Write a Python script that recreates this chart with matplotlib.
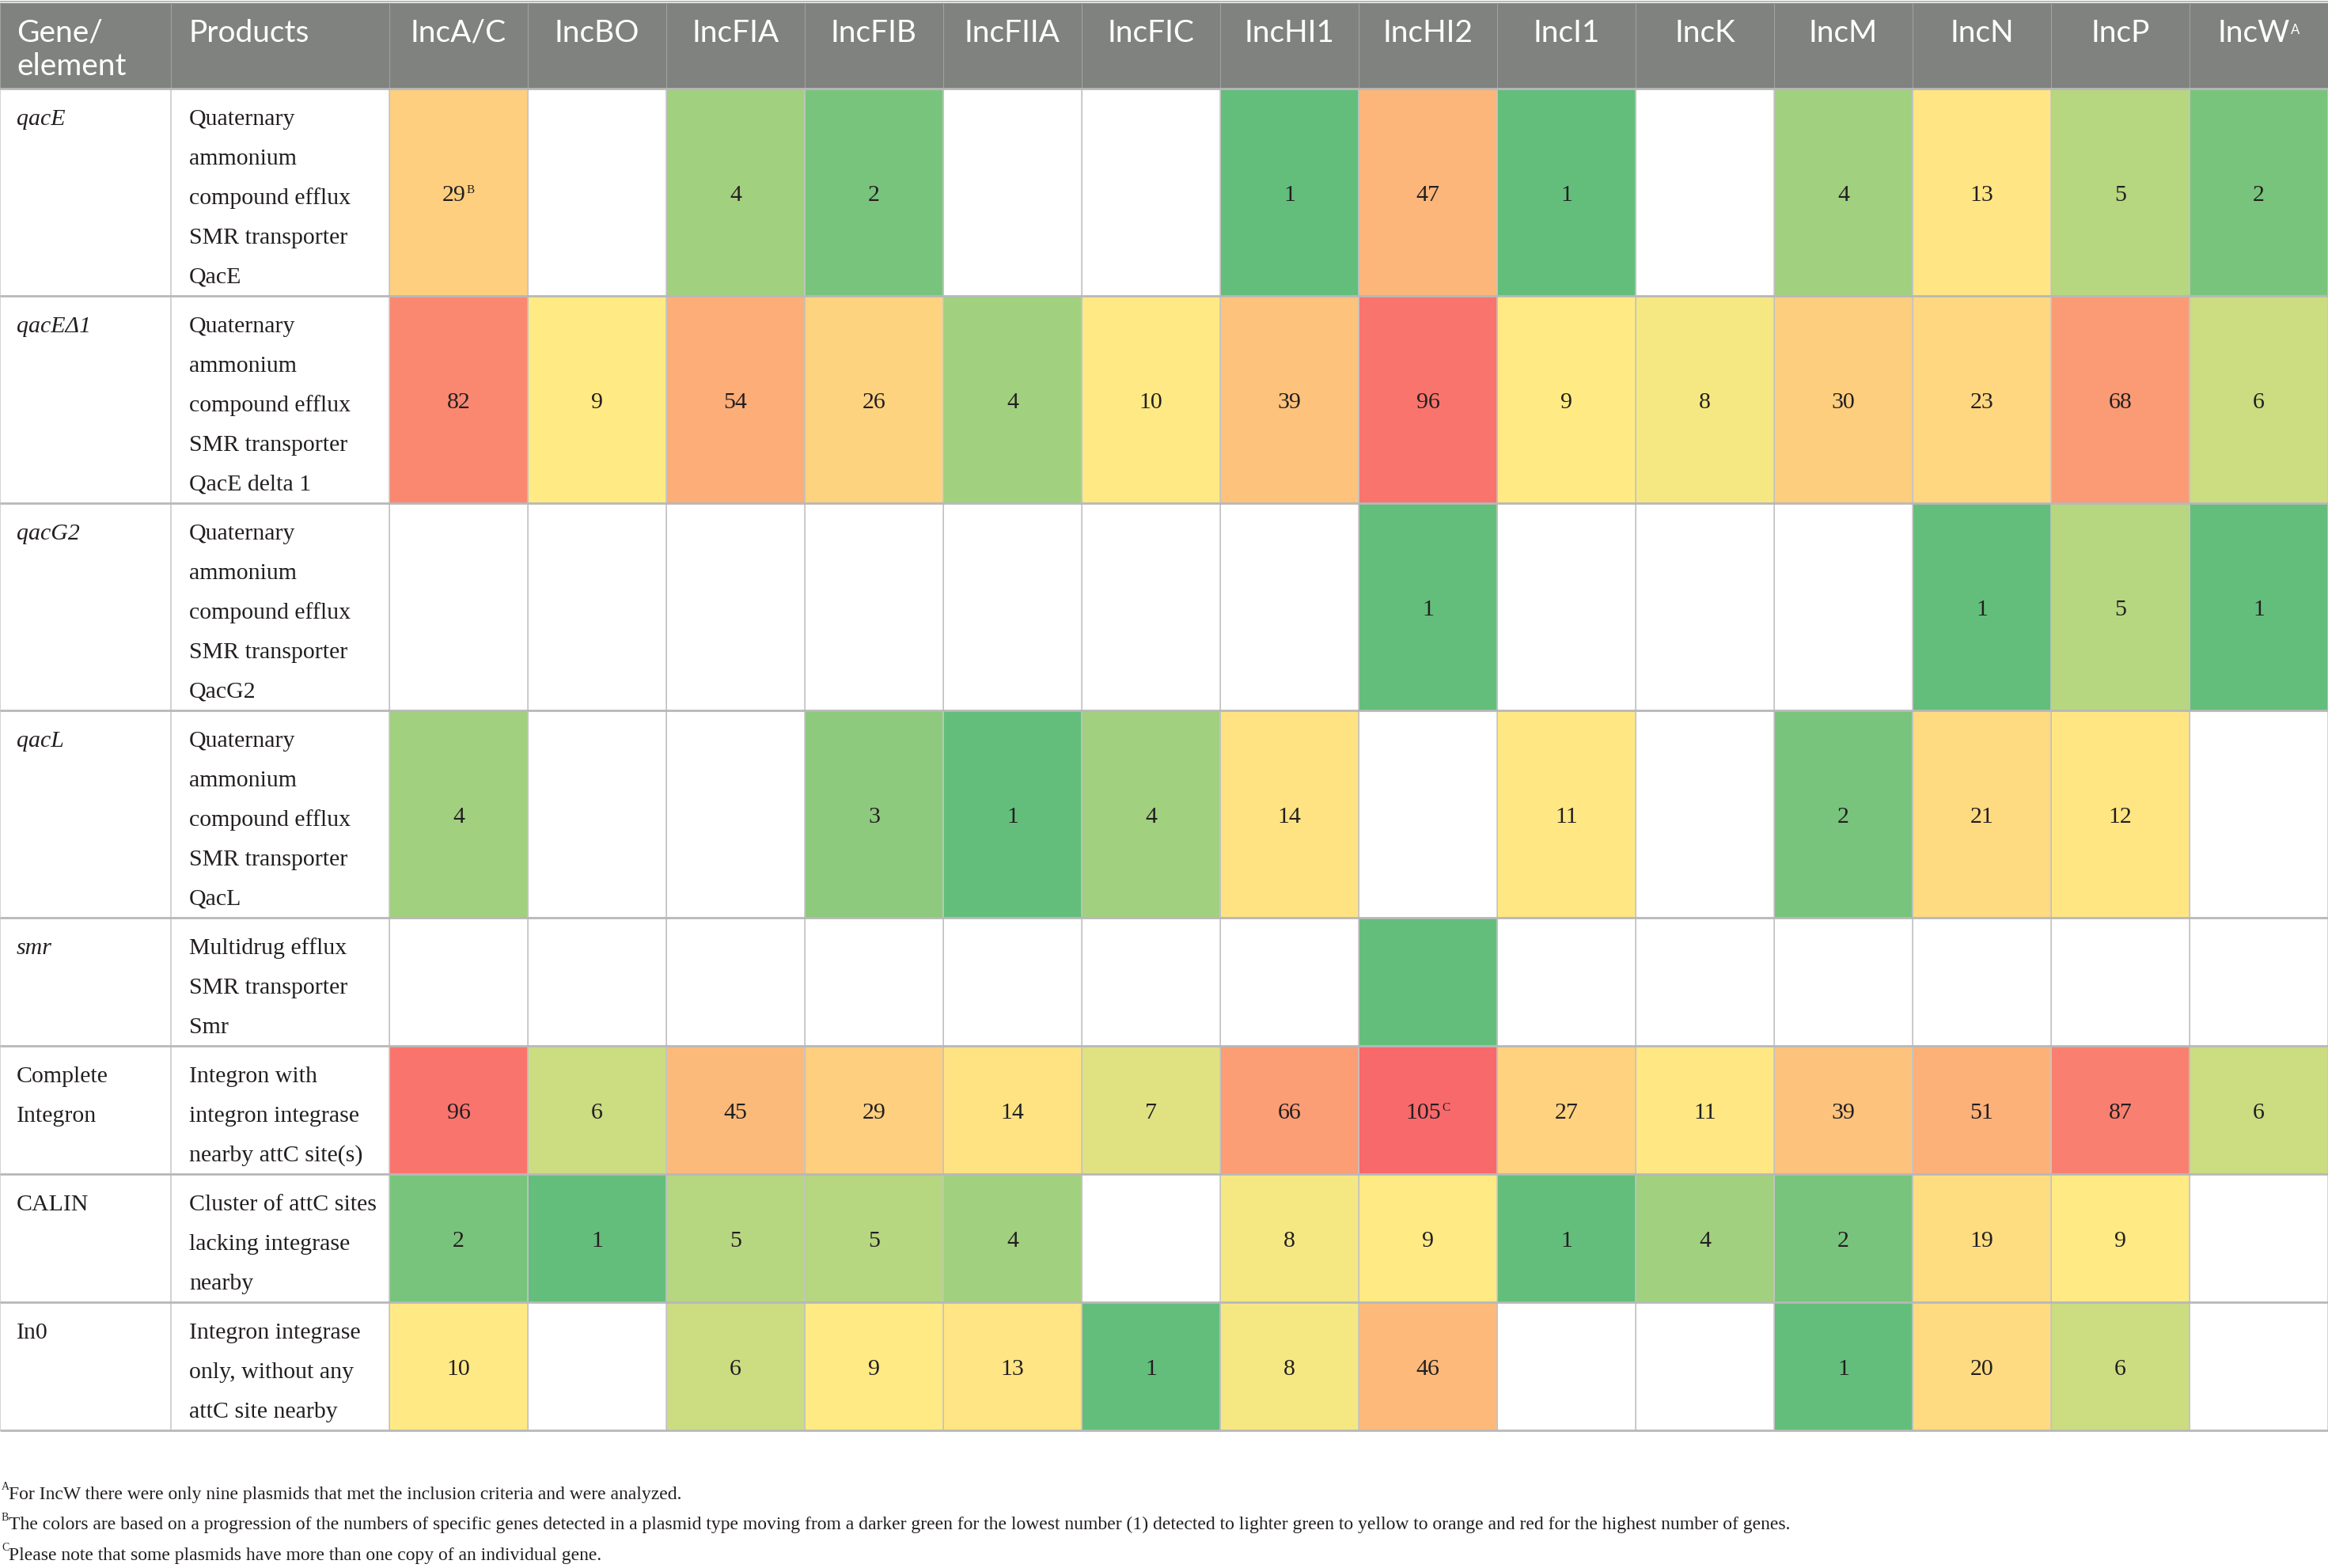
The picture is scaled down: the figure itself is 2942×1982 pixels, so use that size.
import matplotlib
matplotlib.use("Agg")
import matplotlib.pyplot as plt
import numpy as np
from matplotlib.colors import LinearSegmentedColormap, TwoSlopeNorm
from matplotlib.font_manager import FontProperties
from matplotlib.patches import Rectangle

# ---------------- data ----------------
columns = ["IncA/C", "IncBO", "IncFIA", "IncFIB", "IncFIIA", "IncFIC", "IncHI1",
           "IncHI2", "IncI1", "IncK", "IncM", "IncN", "IncP", "IncW"]
column_notes = {"IncW": "A"}

genes = ["qacE", "qacE\u03941", "qacG2", "qacL", "smr",
         "Complete\nIntegron", "CALIN", "In0"]
gene_italic = [True, True, True, True, True, False, False, False]

products = [
    "Quaternary\nammonium\ncompound efflux\nSMR transporter\nQacE",
    "Quaternary\nammonium\ncompound efflux\nSMR transporter\nQacE delta 1",
    "Quaternary\nammonium\ncompound efflux\nSMR transporter\nQacG2",
    "Quaternary\nammonium\ncompound efflux\nSMR transporter\nQacL",
    "Multidrug efflux\nSMR transporter\nSmr",
    "Integron with\nintegron integrase\nnearby attC site(s)",
    "Cluster of attC sites\nlacking integrase\nnearby",
    "Integron integrase\nonly, without any\nattC site nearby",
]

N = None
qacE_vals     = [29, N, 4, 2, N, N, 1, 47, 1, N, 4, 13, 5, 2]
qacED1_vals   = [82, 9, 54, 26, 4, 10, 39, 96, 9, 8, 30, 23, 68, 6]
qacG2_vals    = [N, N, N, N, N, N, N, 1, N, N, N, 1, 5, 1]
qacL_vals     = [4, N, N, 3, 1, 4, 14, N, 11, N, 2, 21, 12, N]
smr_vals      = [N, N, N, N, N, N, N, 1, N, N, N, N, N, N]
complete_vals = [96, 6, 45, 29, 14, 7, 66, 105, 27, 11, 39, 51, 87, 6]
calin_vals    = [2, 1, 5, 5, 4, N, 8, 9, 1, 4, 2, 19, 9, N]
in0_vals      = [10, N, 6, 9, 13, 1, 8, 46, N, N, 1, 20, 6, N]
table_rows = [qacE_vals, qacED1_vals, qacG2_vals, qacL_vals, smr_vals,
              complete_vals, calin_vals, in0_vals]

# cells whose number is not printed, and cell footnote marks
unlabeled_cells = [("smr", "IncHI2")]
cell_notes = {("qacE", "IncA/C"): "B", ("Complete\nIntegron", "IncHI2"): "C"}

footnotes = [
    ("A", "For IncW there were only nine plasmids that met the inclusion criteria and were analyzed."),
    ("B", "The colors are based on a progression of the numbers of specific genes detected in a plasmid type "
          "moving from a darker green for the lowest number (1) detected to lighter green to yellow to orange "
          "and red for the highest number of genes."),
    ("C", "Please note that some plasmids have more than one copy of an individual gene."),
]

# ---------------- layout ----------------
W, H = 2942, 1983
fig = plt.figure(figsize=(W / 100, H / 100), dpi=100)
ax = fig.add_axes([0, 0, 1, 1])
ax.set_xlim(0, W)
ax.set_ylim(H, 0)
ax.axis("off")
renderer = fig.canvas.get_renderer()

TXT = "#231f20"
HEAD_BG = "#808280"
serif = "Liberation Serif"
fp_head = FontProperties(family="Lato", size=28)
fp_head_sup = FontProperties(family="Lato", size=12)
fp_body = FontProperties(family=serif, size=21.5)
fp_body_it = FontProperties(family=serif, size=21.5, style="italic")
fp_sup = FontProperties(family=serif, size=11)
fp_foot = FontProperties(family=serif, size=17)
fp_foot_sup = FontProperties(family=serif, size=10)

gene_x0, prod_x0, data_x0 = 0, 216, 492
col_w = (W - data_x0) / len(columns)
x_edges = data_x0 + col_w * np.arange(len(columns) + 1)
left_edges = [gene_x0, prod_x0]

head_top, head_bot = 5, 113
line_h = 50
n_lines = [max(p.count("\n"), g.count("\n")) + 1 for p, g in zip(products, genes)]
row_h = np.array([line_h * n + 12 for n in n_lines])
y_edges = head_bot + np.concatenate([[0], np.cumsum(row_h)])
table_bot = y_edges[-1]

# ---------------- colour scale ----------------
vals = np.array([[np.nan if v is None else v for v in r] for r in table_rows], dtype=float)
cmap = LinearSegmentedColormap.from_list("excel3", ["#63BE7B", "#FFEB84", "#F8696B"])
norm = TwoSlopeNorm(vmin=np.nanmin(vals), vcenter=np.nanpercentile(vals, 50), vmax=np.nanmax(vals))
ax.pcolormesh(x_edges, y_edges, np.ma.masked_invalid(vals), cmap=cmap, norm=norm,
              edgecolors="#b2b2b2", linewidth=0.7, zorder=1)

# header background
ax.add_patch(Rectangle((0, head_top), W, head_bot - head_top, facecolor=HEAD_BG,
                       edgecolor="none", zorder=1))
ax.hlines(3, 0, W, colors="#b9b9b9", lw=1.6, zorder=2)

# grid lines
all_v = [0, prod_x0] + list(x_edges)
ax.vlines(all_v, head_top, head_bot, colors="#a0a2a0", lw=0.8, zorder=2)
ax.vlines(all_v, head_bot, table_bot, colors="#c6c6c6", lw=1.1, zorder=2)
ax.hlines(y_edges, 0, W, colors="#b8b8b8", lw=2.0, zorder=3)


def rich(x, y, main, sup, ha, fp, fps, raise_px, color, gap=1.0):
    tm = ax.text(x, y, main, ha="left", va="baseline", fontproperties=fp, color=color, zorder=4)
    wm = tm.get_window_extent(renderer).width
    ts = ax.text(x, y - raise_px, sup, ha="left", va="baseline", fontproperties=fps,
                 color=color, zorder=4)
    ws = ts.get_window_extent(renderer).width
    x0 = x - (wm + gap + ws) / 2 if ha == "center" else x
    tm.set_x(x0)
    ts.set_x(x0 + wm + gap)


# header text
head_base = 53
ax.text(21, head_base, "Gene/", ha="left", va="baseline", fontproperties=fp_head, color="white", zorder=4)
ax.text(21, head_base + 42, "element", ha="left", va="baseline", fontproperties=fp_head, color="white", zorder=4)
ax.text(prod_x0 + 23, head_base, "Products", ha="left", va="baseline", fontproperties=fp_head,
        color="white", zorder=4)
for j, c in enumerate(columns):
    cx = (x_edges[j] + x_edges[j + 1]) / 2
    if c in column_notes:
        rich(cx, head_base, c, column_notes[c], "center", fp_head, fp_head_sup, 10, "white", gap=1)
    else:
        ax.text(cx, head_base, c, ha="center", va="baseline", fontproperties=fp_head,
                color="white", zorder=4)

# body text
for i, g in enumerate(genes):
    top = y_edges[i]
    fpg = fp_body_it if gene_italic[i] else fp_body
    for k, ln in enumerate(g.split("\n")):
        ax.text(21, top + 45 + k * line_h, ln, ha="left", va="baseline", fontproperties=fpg,
                color=TXT, zorder=4)
    for k, ln in enumerate(products[i].split("\n")):
        ax.text(prod_x0 + 23, top + 45 + k * line_h, ln, ha="left", va="baseline",
                fontproperties=fp_body, color=TXT, zorder=4)
    cy = (y_edges[i] + y_edges[i + 1]) / 2 + 10
    for j, c in enumerate(columns):
        v = table_rows[i][j]
        if v is None or (g, c) in unlabeled_cells:
            continue
        cx = (x_edges[j] + x_edges[j + 1]) / 2
        if (g, c) in cell_notes:
            rich(cx, cy, str(v), cell_notes[(g, c)], "center", fp_body, fp_sup, 10, TXT, gap=1)
        else:
            ax.text(cx, cy, str(v), ha="center", va="baseline", fontproperties=fp_body,
                    color=TXT, zorder=4)

# footnotes
foot_base = 1895
for k, (mark, txt) in enumerate(footnotes):
    y = foot_base + k * 38.5
    rich(2, y, mark, "", "left", fp_foot_sup, fp_foot_sup, 0, TXT)
    ax.texts[-2].set_y(y - 12)
    ax.text(11, y, txt, ha="left", va="baseline", fontproperties=fp_foot, color=TXT, zorder=4)

fig.savefig("out.png", dpi=100, facecolor="white")
